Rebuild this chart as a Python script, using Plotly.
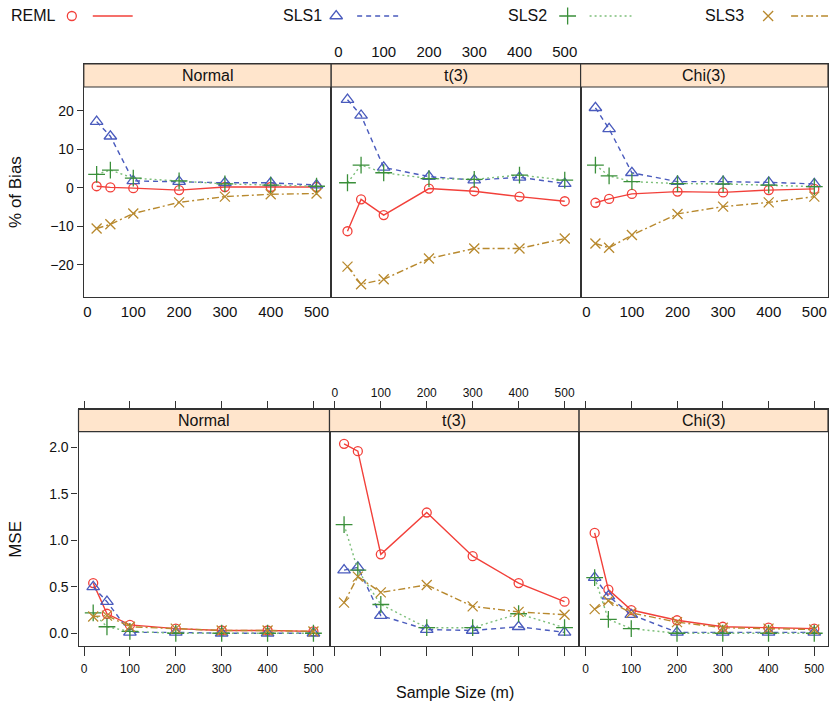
import plotly.graph_objects as go

W, H = 829, 710

sizes = [20, 50, 100, 200, 300, 400, 500]
panels = ["Normal", "t(3)", "Chi(3)"]
methods = ["REML", "SLS1", "SLS2", "SLS3"]

bias_normal_reml = [0.4, 0.1, -0.1, -0.6, 0.2, 0.2, 0.2]
bias_normal_sls1 = [17.2, 13.4, 1.8, 1.6, 1.3, 1.3, 0.7]
bias_normal_sls2 = [3.5, 4.6, 2.5, 1.8, 1.0, 0.7, 0.4]
bias_normal_sls3 = [-10.6, -9.5, -6.7, -3.8, -2.3, -1.7, -1.5]

bias_t3_reml = [-11.3, -3.0, -7.1, -0.2, -0.9, -2.3, -3.5]
bias_t3_sls1 = [22.9, 18.8, 5.3, 2.9, 2.0, 2.7, 1.1]
bias_t3_sls2 = [1.3, 5.9, 3.9, 2.4, 2.2, 3.3, 2.0]
bias_t3_sls3 = [-20.5, -25.1, -23.8, -18.4, -15.8, -15.8, -13.2]

bias_chi3_reml = [-3.9, -2.9, -1.6, -1.0, -1.2, -0.6, -0.3]
bias_chi3_sls1 = [20.8, 15.3, 3.9, 1.6, 1.6, 1.4, 1.0]
bias_chi3_sls2 = [5.9, 3.1, 1.6, 1.1, 1.0, 0.7, 0.3]
bias_chi3_sls3 = [-14.5, -15.6, -12.3, -6.8, -4.9, -3.8, -2.3]

mse_normal_reml = [0.54, 0.21, 0.09, 0.05, 0.03, 0.03, 0.02]
mse_normal_sls1 = [0.50, 0.34, 0.01, 0.01, 0.00, 0.00, 0.00]
mse_normal_sls2 = [0.22, 0.07, 0.02, 0.00, 0.00, 0.00, 0.00]
mse_normal_sls3 = [0.18, 0.19, 0.07, 0.05, 0.03, 0.03, 0.02]

mse_t3_reml = [2.04, 1.96, 0.85, 1.30, 0.83, 0.54, 0.34]
mse_t3_sls1 = [0.68, 0.71, 0.19, 0.04, 0.03, 0.07, 0.01]
mse_t3_sls2 = [1.17, 0.68, 0.31, 0.06, 0.06, 0.21, 0.06]
mse_t3_sls3 = [0.33, 0.61, 0.44, 0.52, 0.29, 0.23, 0.20]

mse_chi3_reml = [1.08, 0.47, 0.25, 0.14, 0.07, 0.06, 0.05]
mse_chi3_sls1 = [0.60, 0.40, 0.20, 0.01, 0.01, 0.01, 0.01]
mse_chi3_sls2 = [0.60, 0.15, 0.05, 0.00, 0.00, 0.00, 0.00]
mse_chi3_sls3 = [0.26, 0.35, 0.22, 0.12, 0.06, 0.05, 0.04]

bias_ticks = [-20, -10, 0, 10, 20]
mse_ticks = [0.0, 0.5, 1.0, 1.5, 2.0]
mse_ticktext = ["0.0", "0.5", "1.0", "1.5", "2.0"]
x_ticks = [0, 100, 200, 300, 400, 500]

bias_data = [
    [bias_normal_reml, bias_normal_sls1, bias_normal_sls2, bias_normal_sls3],
    [bias_t3_reml, bias_t3_sls1, bias_t3_sls2, bias_t3_sls3],
    [bias_chi3_reml, bias_chi3_sls1, bias_chi3_sls2, bias_chi3_sls3],
]
mse_data = [
    [mse_normal_reml, mse_normal_sls1, mse_normal_sls2, mse_normal_sls3],
    [mse_t3_reml, mse_t3_sls1, mse_t3_sls2, mse_t3_sls3],
    [mse_chi3_reml, mse_chi3_sls1, mse_chi3_sls2, mse_chi3_sls3],
]

# styles
colors = ["#F2403A", "#4A5BBD", "#3A8F3A", "#B8892E"]
line_colors = ["#F2403A", "#4A5BBD", "#7DBF7A", "#B8892E"]
symbols = ["circle-open", "triangle-up-open", "cross-thin-open", "x-thin-open"]
msizes = [9, 11, 12, 10]
dashes = ["solid", "5px,4px", "2px,3px", "7px,3px,2px,3px"]

FONT = "Liberation Sans, Arial, Helvetica, sans-serif"
STRIP = "#FFE5CC"
FRAME = "#333333"


def px(x):
    return x / W


def py(y):
    return 1 - y / H


fig = go.Figure()

# geometry (pixels)
top_x = [(83, 331), (331, 581), (581, 829)]
top_xr = [(-8, 532), (-16, 535), (-12.5, 530)]
top_strip = (64, 87)
top_bottom = 297
top_yr = (-28.4, 26.2)

bot_x = [(77.7, 329.3), (329.3, 579.5), (579.5, 829)]
bot_xr = [(-12, 535), (-11.7, 531.7), (-14, 530)]
bot_strip = (409.3, 431.7)
bot_bottom = 646
bot_yr = (-0.137, 2.17)


def ext_range(yr, strip, bottom):
    lo, hi = yr
    per = (hi - lo) / (bottom - strip[1])
    return [lo, hi + per * (strip[1] - strip[0])]


layout = dict(
    width=W, height=H, margin=dict(l=0, r=0, t=0, b=0),
    paper_bgcolor="white", plot_bgcolor="white", showlegend=False,
    font=dict(family=FONT, color="#111"),
)

shapes = []
annotations = []

for row in range(2):
    for c in range(3):
        idx = row * 3 + c + 1
        sfx = "" if idx == 1 else str(idx)
        if row == 0:
            xd, xr, strip, bottom, yr = top_x[c], top_xr[c], top_strip, top_bottom, top_yr
            data = bias_data[c]
        else:
            xd, xr, strip, bottom, yr = bot_x[c], bot_xr[c], bot_strip, bot_bottom, bot_yr
            data = mse_data[c]
        yrange = ext_range(yr, strip, bottom)
        xax = dict(
            domain=[px(xd[0]), px(xd[1])], range=list(xr), anchor="y" + sfx,
            showgrid=False, zeroline=False, showline=True, mirror=True,
            linecolor=FRAME, linewidth=1.2,
            tickvals=x_ticks, ticktext=[str(v) for v in x_ticks],
        )
        yax = dict(
            domain=[py(bottom), py(strip[0])], range=yrange, anchor="x" + sfx,
            showgrid=False, zeroline=False, showline=True, mirror=True,
            linecolor=FRAME, linewidth=1.2,
        )
        if row == 0:
            if c == 1:
                xax.update(side="top", ticks="", ticklen=0)
            else:
                xax.update(ticks="outside", ticklen=1, tickcolor="rgba(0,0,0,0)")
            xax.update(tickfont=dict(size=15, family=FONT, color="#111"))
        else:
            xax.update(ticks="outside", ticklen=9, tickwidth=1.3, tickcolor=FRAME,
                       tickfont=dict(size=12, family=FONT, color="#111"),
                       showticklabels=(c != 1), ticklabelstandoff=2)
            # secondary top axis
            tid = 6 + c + 1
            layout["xaxis%d" % tid] = dict(
                domain=[px(xd[0]), px(xd[1])], range=list(xr), anchor="y" + sfx,
                overlaying="x" + sfx, side="top", showgrid=False, zeroline=False,
                showline=False, ticks="outside", ticklen=7, tickwidth=1.3,
                tickcolor=FRAME, tickvals=x_ticks,
                ticktext=[str(v) for v in x_ticks], showticklabels=(c == 1),
                tickfont=dict(size=12, family=FONT, color="#111"),
            )
            fig.add_trace(go.Scatter(x=[None], y=[None], xaxis="x%d" % tid,
                                     yaxis="y" + sfx, showlegend=False,
                                     hoverinfo="skip"))
        if c == 0:
            if row == 0:
                yax.update(tickvals=bias_ticks, ticks="outside", ticklen=6,
                           tickwidth=1.3, tickcolor=FRAME,
                           tickfont=dict(size=14, family=FONT, color="#111"))
            else:
                yax.update(tickvals=mse_ticks, ticktext=mse_ticktext,
                           ticks="outside", ticklen=6, tickwidth=1.3,
                           tickcolor=FRAME,
                           tickfont=dict(size=14, family=FONT, color="#111"))
        else:
            yax.update(showticklabels=False, ticks="")
        layout["xaxis" + sfx] = xax
        layout["yaxis" + sfx] = yax

        for m in range(4):
            fig.add_trace(go.Scatter(
                x=sizes, y=data[m], mode="lines+markers", name=methods[m],
                xaxis="x" + sfx, yaxis="y" + sfx, showlegend=False,
                line=dict(color=line_colors[m], width=1.4, dash=dashes[m]),
                marker=dict(symbol=symbols[m], size=msizes[m], color=colors[m],
                            line=dict(width=1.3, color=colors[m])),
            ))

        # strip
        shapes.append(dict(type="rect", xref="paper", yref="paper",
                           x0=px(xd[0]), x1=px(xd[1]), y0=py(strip[1]), y1=py(strip[0]),
                           fillcolor=STRIP, line=dict(color=FRAME, width=1.2),
                           layer="above"))
        annotations.append(dict(xref="paper", yref="paper",
                                x=px((xd[0] + xd[1]) / 2), y=py((strip[0] + strip[1]) / 2),
                                text=panels[c], showarrow=False,
                                font=dict(size=16, family=FONT, color="#111"),
                                xanchor="center", yanchor="middle"))

# axis titles
annotations.append(dict(xref="paper", yref="paper", x=px(15), y=py((87 + 297) / 2),
                        text="% of Bias", textangle=-90, showarrow=False,
                        font=dict(size=17, family=FONT, color="#111"),
                        xanchor="center", yanchor="middle"))
annotations.append(dict(xref="paper", yref="paper", x=px(15), y=py((431.7 + 646) / 2),
                        text="MSE", textangle=-90, showarrow=False,
                        font=dict(size=17, family=FONT, color="#111"),
                        xanchor="center", yanchor="middle"))
annotations.append(dict(xref="paper", yref="paper", x=px(455), y=py(692),
                        text="Sample Size (m)", showarrow=False,
                        font=dict(size=16, family=FONT, color="#111"),
                        xanchor="center", yanchor="middle"))

# custom key (text, point, line) across the top
key_text_x = [8, 281, 506, 704]
key_point_x = [71, 336, 568, 769]
key_line_x = [(92, 132), (357, 402), (590, 632), (792, 829)]
layout["xaxis10"] = dict(domain=[0, 1], range=[0, W], visible=False, anchor="y10")
layout["yaxis10"] = dict(domain=[py(32), 1], range=[0, 1], visible=False, anchor="x10")
for m in range(4):
    fig.add_trace(go.Scatter(x=[key_point_x[m]], y=[0.5], mode="markers",
                             xaxis="x10", yaxis="y10", showlegend=False,
                             marker=dict(symbol=symbols[m], size=msizes[m], color=colors[m],
                                         line=dict(width=1.3, color=colors[m]))))
    fig.add_trace(go.Scatter(x=list(key_line_x[m]), y=[0.5, 0.5], mode="lines",
                             xaxis="x10", yaxis="y10", showlegend=False,
                             line=dict(color=line_colors[m], width=1.4, dash=dashes[m])))
    annotations.append(dict(xref="paper", yref="paper", x=px(key_text_x[m]), y=py(16),
                            text=methods[m], showarrow=False,
                            font=dict(size=16, family=FONT, color="#111"),
                            xanchor="left", yanchor="middle"))

layout["shapes"] = shapes
layout["annotations"] = annotations
fig.update_layout(**layout)
fig.write_html("out.html")
